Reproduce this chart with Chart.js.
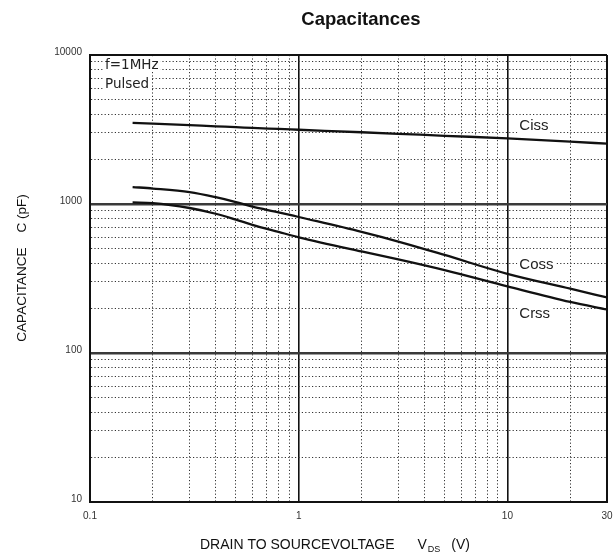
<!DOCTYPE html>
<html>
<head>
<meta charset="utf-8">
<script src="https://cdn.jsdelivr.net/npm/chart.js@4.4.1/dist/chart.umd.min.js"></script>
<style>
  html, body { margin: 0; padding: 0; background: #fff; }
  #wrap { width: 614px; height: 560px; }
</style>
</head>
<body>
<div id="wrap"><canvas id="c" width="614" height="560"></canvas></div>
<script>
// Drain-source voltage (V) at which the capacitance curves are sampled
const vds  = [0.16, 0.2, 0.3, 0.4, 0.5, 0.6, 0.8, 1, 2, 3, 5, 10, 20, 30];
// Capacitances in pF
const ciss = [3500, 3460, 3380, 3320, 3280, 3240, 3190, 3150, 3030, 2960, 2870, 2760, 2620, 2540];
const coss = [1300, 1270, 1200, 1110, 1030, 960, 880, 818, 650, 560, 455, 340, 270, 236];
const crss = [1025, 1015, 940, 860, 785, 725, 650, 598, 480, 425, 360, 280, 220, 196];

// Axis ticks (every decade step gets a grid line, only some get a label)
const xTickValues = [0.1, 0.2, 0.3, 0.4, 0.5, 0.6, 0.7, 0.8, 0.9, 1, 2, 3, 4, 5, 6, 7, 8, 9, 10, 20, 30];
const xTickLabels = ['0.1', '1', '10', '30'];
const yTickValues = [10, 20, 30, 40, 50, 60, 70, 80, 90,
                     100, 200, 300, 400, 500, 600, 700, 800, 900,
                     1000, 2000, 3000, 4000, 5000, 6000, 7000, 8000, 9000, 10000];
const yTickLabels = ['10', '100', '1000', '10000'];

// Curve name labels, anchored in data units (left edge, vertical centre)
const curveNames = [
  { text: 'Ciss', x: 11.4, y: 3330 },
  { text: 'Coss', x: 11.4, y: 390 },
  { text: 'Crss', x: 11.4, y: 183 }
];

const ARIAL = '"Liberation Sans", Arial, sans-serif';

function xKind(v) {
  if (v === 0.1 || v === 30) return 'edge';
  if (v === 1 || v === 10) return 'major';
  return 'minor';
}
function yKind(v) {
  if (v === 10 || v === 10000) return 'edge';
  if (v === 100 || v === 1000) return 'major';
  return 'minor';
}

function toPoints(ys) {
  return vds.map((v, i) => ({ x: v, y: ys[i] }));
}

function lineSet(label, ys) {
  return {
    label,
    data: toPoints(ys),
    borderColor: '#111',
    borderWidth: 2.3,
    pointRadius: 0,
    fill: false,
    cubicInterpolationMode: 'monotone'
  };
}

function boxedText(ctx, text, x, y) {
  const w = ctx.measureText(text).width;
  ctx.fillStyle = '#fff';
  ctx.fillRect(x - 2, y - 7, w + 4, 14);
  ctx.fillStyle = '#222';
  ctx.fillText(text, x, y);
}

const textPlugin = {
  id: 'chartText',
  afterDatasetsDraw(chart) {
    const { ctx, chartArea: a, scales } = chart;
    ctx.save();
    ctx.textBaseline = 'middle';
    ctx.textAlign = 'left';

    // test condition note
    ctx.font = '13.5px "DejaVu Sans", sans-serif';
    boxedText(ctx, 'f=1MHz', a.left + 15, a.top + 10);
    boxedText(ctx, 'Pulsed', a.left + 15, a.top + 29);

    // curve names
    ctx.font = '15px ' + ARIAL;
    curveNames.forEach(n => {
      boxedText(ctx, n.text, scales.x.getPixelForValue(n.x), scales.y.getPixelForValue(n.y));
    });
    ctx.restore();
  },
  afterDraw(chart) {
    const { ctx } = chart;
    ctx.save();
    ctx.fillStyle = '#111';
    ctx.textBaseline = 'middle';

    // chart title
    ctx.textAlign = 'center';
    ctx.font = 'bold 18.5px ' + ARIAL;
    ctx.fillText('Capacitances', 361, 20);

    // x axis title with subscript
    ctx.textAlign = 'left';
    let x = 200;
    const y = 545;
    ctx.font = '14px ' + ARIAL;
    ctx.fillText('DRAIN TO SOURCEVOLTAGE', x, y);
    x += ctx.measureText('DRAIN TO SOURCEVOLTAGE').width + 23;
    ctx.fillText('V', x, y);
    x += ctx.measureText('V').width + 1;
    ctx.font = '9px ' + ARIAL;
    ctx.fillText('DS', x, y + 5);
    x += ctx.measureText('DS').width + 11;
    ctx.font = '14px ' + ARIAL;
    ctx.fillText('(V)', x, y);

    // y axis title
    ctx.translate(22, 268);
    ctx.rotate(-Math.PI / 2);
    ctx.textAlign = 'center';
    ctx.font = '13.5px ' + ARIAL;
    ctx.fillText('CAPACITANCE    C (pF)', 0, 0);
    ctx.restore();
  }
};

new Chart(document.getElementById('c'), {
  type: 'line',
  data: {
    datasets: [
      lineSet('Ciss', ciss),
      lineSet('Coss', coss),
      lineSet('Crss', crss)
    ]
  },
  options: {
    responsive: false,
    animation: false,
    layout: { padding: { top: 55, right: 7, left: 0, bottom: 0 } },
    plugins: {
      legend: { display: false },
      tooltip: { enabled: false },
      title: { display: false }
    },
    scales: {
      x: {
        type: 'logarithmic',
        min: 0.1,
        max: 30,
        afterBuildTicks(scale) {
          scale.ticks = xTickValues.map(v => ({ value: v }));
        },
        afterFit(scale) {
          scale.height = 58;
          scale.paddingLeft = 0;
          scale.paddingRight = 0;
        },
        ticks: {
          autoSkip: false,
          maxRotation: 0,
          padding: 8,
          color: '#333',
          font: { family: ARIAL, size: 10 },
          callback: v => (xTickLabels.includes(String(v)) ? String(v) : '')
        },
        grid: {
          drawTicks: false,
          color: ctx => (xKind(ctx.tick.value) === 'minor' ? '#333' : '#111'),
          lineWidth: ctx => ({ edge: 2, major: 1.6, minor: 1 })[xKind(ctx.tick.value)]
        },
        border: {
          display: true,
          color: '#111',
          width: 2,
          dash: ctx => (ctx.tick && xKind(ctx.tick.value) === 'minor' ? [1.2, 2.2] : [])
        }
      },
      y: {
        type: 'logarithmic',
        min: 10,
        max: 10000,
        afterBuildTicks(scale) {
          scale.ticks = yTickValues.map(v => ({ value: v }));
        },
        afterFit(scale) {
          scale.width = 90;
          scale.paddingTop = 0;
          scale.paddingBottom = 0;
        },
        ticks: {
          autoSkip: false,
          padding: 8,
          labelOffset: -3,
          color: '#333',
          font: { family: ARIAL, size: 10 },
          callback: v => (yTickLabels.includes(String(v)) ? String(v) : '')
        },
        grid: {
          drawTicks: false,
          color: ctx => ({ edge: '#111', major: '#3a3a3a', minor: '#333' })[yKind(ctx.tick.value)],
          lineWidth: ctx => ({ edge: 2, major: 2.6, minor: 1 })[yKind(ctx.tick.value)]
        },
        border: {
          display: true,
          color: '#111',
          width: 2,
          dash: ctx => (ctx.tick && yKind(ctx.tick.value) === 'minor' ? [1.2, 2.2] : [])
        }
      }
    }
  },
  plugins: [textPlugin]
});
</script>
</body>
</html>
